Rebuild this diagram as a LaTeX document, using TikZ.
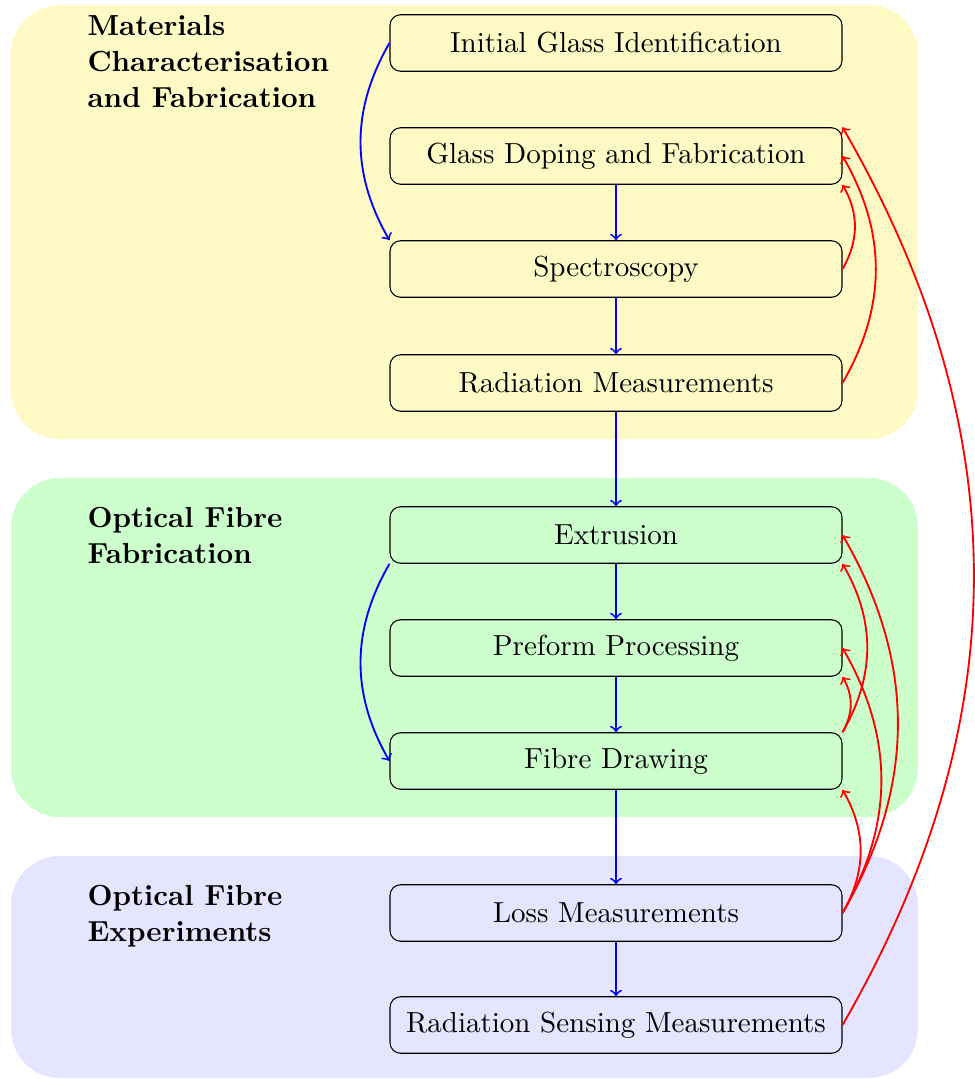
\documentclass[11pt,tikz,border=0pt]{standalone}
\definecolor{bgyellow}{RGB}{255,249,198}
\definecolor{bggreen}{RGB}{204,255,204}
\definecolor{bgblue}{RGB}{229,229,255}
\begin{document}
\begin{tikzpicture}[x=0.013275cm,y=-0.013275cm,
  stepbox/.style={draw, rounded corners=4pt, minimum width=6cm, minimum height=0.75cm, inner sep=2pt},
  grouplabel/.style={anchor=north west, inner sep=0pt, align=left, font=\bfseries},
  bg/.style={rounded corners=0.65cm},
  flow/.style={->, blue, line width=0.7pt},
  back/.style={->, red, line width=0.7pt}]
\useasboundingbox (0,0) rectangle (975,1079);
% group backgrounds
\fill[bg, bgyellow] (11,5) rectangle (918,439);
\fill[bg, bggreen] (11,478) rectangle (918,817);
\fill[bg, bgblue] (11,856) rectangle (918,1078);
% group labels
\node[grouplabel] (l1) at (87,15) {Materials\\Characterisation\\and Fabrication};
\node[grouplabel] (l2) at (87,507) {Optical Fibre\\Fabrication};
\node[grouplabel] (l3) at (87,885) {Optical Fibre\\Experiments};
% steps
\node[stepbox] (igi) at (616,43) {Initial Glass Identification};
\node[stepbox] (gdf) at (616,156) {Glass Doping and Fabrication};
\node[stepbox] (spe) at (616,269) {Spectroscopy};
\node[stepbox] (rad) at (616,383) {Radiation Measurements};
\node[stepbox] (ext) at (616,535) {Extrusion};
\node[stepbox] (pre) at (616,648) {Preform Processing};
\node[stepbox] (fdr) at (616,761) {Fibre Drawing};
\node[stepbox] (los) at (616,913) {Loss Measurements};
\node[stepbox] (rsm) at (616,1025) {Radiation Sensing Measurements};
% forward flow
\draw[flow] (gdf) -- (spe);
\draw[flow] (spe) -- (rad);
\draw[flow] (rad) -- (ext);
\draw[flow] (ext) -- (pre);
\draw[flow] (pre) -- (fdr);
\draw[flow] (fdr) -- (los);
\draw[flow] (los) -- (rsm);
\draw[flow] (igi.west) to[bend right=30] (spe.north west);
\draw[flow] (ext.south west) to[bend right=30] (fdr.west);
% feedback
\draw[back] (spe.east) to[bend right=30] (gdf.south east);
\draw[back] (rad.east) to[bend right=30] (gdf.east);
\draw[back] (rsm.east) to[bend right=30] (gdf.north east);
\draw[back] (fdr.north east) to[bend right=30] (pre.south east);
\draw[back] (fdr.north east) to[bend right=30] (ext.south east);
\draw[back] (los.east) to[bend right=30] (fdr.south east);
\draw[back] (los.east) to[bend right=30] (pre.east);
\draw[back] (los.east) to[bend right=30] (ext.east);
\end{tikzpicture}
\end{document}
